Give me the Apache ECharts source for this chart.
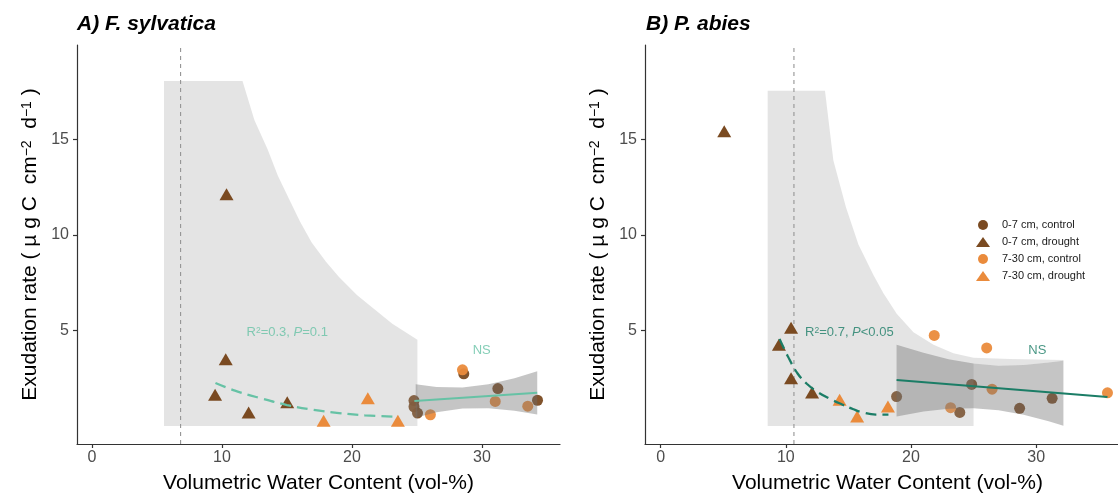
<!DOCTYPE html>
<html>
<head>
<meta charset="utf-8">
<script src="https://cdn.jsdelivr.net/npm/echarts@6/dist/echarts.min.js"></script>
<style>
  html, body { margin: 0; padding: 0; background: #fff; }
  #chart { width: 1118px; height: 495px; }
</style>
</head>
<body>
<div id="chart"></div>
<script>
// ---- data ----
// axis limits (data units)
var xLimA = [-1.15, 36.0];
var xLimB = [-1.25, 37.5];
var yLim = [-0.94, 19.94];
var xTicks = [0, 10, 20, 30];
var yTicks = [5, 10, 15];

// A) F. sylvatica points
var a_ctrl07 = [[24.77, 1.33], [24.77, 1.01], [25.04, 0.68], [28.6, 2.73], [31.22, 1.96], [34.27, 1.35]];
var a_drou07 = [[10.35, 12.13], [10.29, 3.5], [9.47, 1.64], [12.05, 0.71], [15.02, 1.24]];
var a_ctrl730 = [[28.5, 2.94], [26.03, 0.59], [31.02, 1.29], [33.52, 1.04]];
var a_drou730 = [[17.82, 0.28], [21.22, 1.45], [23.53, 0.28]];

// A) fitted curves
var a_dashX = [9.5, 11, 13, 15, 17, 19, 21, 23.5];
var a_dashY = [2.25, 1.85, 1.45, 1.1, 0.85, 0.68, 0.56, 0.48];
var a_lineX = [24.8, 34.25];
var a_lineY = [1.31, 1.74];

// A) confidence bands
var a_lightX = [5.54, 11.58, 12.5, 13.5, 14.3, 15.15, 16.0, 16.9, 18.0, 19.0, 20.4, 21.75, 23.1, 25.03];
var a_lightHi = [18.05, 18.05, 16.0, 14.5, 13.1, 11.9, 10.7, 9.6, 8.6, 7.8, 6.85, 6.1, 5.35, 4.51];
var a_lightLoX = [5.54, 25.03];
var a_lightLo = [0, 0];
var a_ciX = [24.9, 26.5, 28.5, 30.5, 32.5, 34.25];
var a_ciHi = [2.19, 2.04, 2.02, 2.19, 2.5, 2.87];
var a_ciLo = [0.43, 0.72, 0.92, 0.93, 0.8, 0.61];

var a_vline = 6.82;

// B) P. abies points
var b_ctrl07 = [[18.85, 1.54], [23.9, 0.71], [24.85, 2.18], [28.68, 0.93], [31.28, 1.45]];
var b_drou07 = [[5.08, 15.43], [10.42, 5.14], [9.45, 4.25], [10.42, 2.5], [12.1, 1.76]];
var b_ctrl730 = [[21.86, 4.74], [26.05, 4.09], [23.17, 0.96], [26.48, 1.93], [35.7, 1.74]];
var b_drou730 = [[14.3, 1.38], [15.7, 0.5], [18.16, 1.02]];

// B) fitted curves
var b_dashX = [9.5, 10.16, 10.94, 11.7, 12.5, 13.5, 14.5, 15.4, 16.2, 17.2, 18.2];
var b_dashY = [4.56, 3.65, 2.75, 2.2, 1.8, 1.43, 1.13, 0.88, 0.7, 0.6, 0.6];
var b_lineX = [18.85, 35.7];
var b_lineY = [2.41, 1.52];

// B) confidence bands
var b_lightX = [8.55, 13.13, 13.8, 14.8, 15.8, 17.0, 17.8, 18.86, 20.2, 21.8, 23.39, 25.0, 27.9, 32.18];
var b_lightHi = [17.55, 17.55, 13.9, 11.46, 9.5, 7.9, 6.95, 5.87, 4.91, 4.26, 3.81, 3.57, 3.51, 3.46];
var b_lightLoX = [8.55, 25.0, 25.0, 27.0, 29.0, 31.0, 32.18];
var b_lightLo = [0, 0, 3.27, 3.16, 3.19, 3.33, 3.42];
var b_ciX = [18.85, 21, 23, 25, 27, 29, 31, 32.18];
var b_ciHi = [4.26, 3.84, 3.5, 3.27, 3.16, 3.19, 3.33, 3.42];
var b_ciLo = [0.5, 0.76, 0.9, 0.93, 0.82, 0.59, 0.25, 0.02];

var b_vline = 10.65;

// annotations [x, y]
var a_r2Pos = [15.02, 4.91];
var a_nsPos = [29.98, 3.95];
var b_r2Pos = [15.08, 4.91];
var b_nsPos = [30.1, 3.95];

// ---- chart ----
var chart = echarts.init(document.getElementById('chart'));
var FONT = '"Liberation Sans", Arial, Helvetica, sans-serif';
var BROWN = '#7a4a21';
var ORANGE = '#ea8b3c';
var TEAL_A = '#66c2a5';
var TEAL_B = '#1b7d66';
var LIGHT = 'rgba(150,150,150,0.26)';
var DARK = 'rgba(110,110,110,0.40)';

function pairs(xs, ys) {
  return xs.map(function (x, i) { return [x, ys[i]]; });
}

// circles sit under the bands, triangles above them
function pointSeries(name, g, data, symbol, color) {
  var tri = symbol === 'triangle';
  return {
    type: 'scatter', name: name, xAxisIndex: g, yAxisIndex: g,
    data: data, symbol: symbol,
    symbolSize: tri ? [14, 12] : 11,
    itemStyle: { color: color, opacity: tri ? 1 : 0.95 },
    silent: true, z: tri ? 4 : 2
  };
}

function bandSeries(g, hiX, hiY, loX, loY, fill) {
  var pts = pairs(hiX, hiY).concat(pairs(loX, loY).reverse());
  return {
    type: 'custom', xAxisIndex: g, yAxisIndex: g, silent: true, z: 3,
    data: pts,
    renderItem: function (params, api) {
      if (params.dataIndex !== 0) return;
      return {
        type: 'polygon',
        shape: { points: pts.map(function (p) { return api.coord(p); }) },
        style: { fill: fill }
      };
    }
  };
}

function curveSeries(g, xs, ys, color, dashed) {
  return {
    type: 'line', xAxisIndex: g, yAxisIndex: g, data: pairs(xs, ys),
    symbol: 'none', smooth: dashed ? 0.4 : false, silent: true, z: 5,
    lineStyle: { color: color, width: dashed ? 2.3 : 2, type: dashed ? [11, 6] : 'solid', cap: 'butt' }
  };
}

function vlineSeries(g, x) {
  return {
    type: 'line', xAxisIndex: g, yAxisIndex: g, data: [[x, yLim[0]], [x, yLim[1]]],
    symbol: 'none', silent: true, z: 1,
    lineStyle: { color: '#8a8a8a', width: 1, type: [4, 4] }
  };
}

function textSeries(g, pos, text, color) {
  return {
    type: 'scatter', xAxisIndex: g, yAxisIndex: g, data: [pos], symbolSize: 0,
    silent: true, z: 6,
    label: {
      show: true, position: 'inside', formatter: text, color: color,
      fontSize: 13, fontFamily: FONT,
      rich: {
        sup: { fontSize: 8.5, verticalAlign: 'top', color: color, fontFamily: FONT },
        it: { fontSize: 13, fontStyle: 'italic', color: color, fontFamily: FONT }
      }
    }
  };
}

function xAxis(g, lim) {
  return {
    type: 'value', gridIndex: g, min: lim[0], max: lim[1],
    name: 'Volumetric Water Content (vol-%)', nameLocation: 'middle', nameGap: 29,
    nameTextStyle: { fontSize: 21, color: '#000', fontFamily: FONT },
    axisLine: { show: true, onZero: false, lineStyle: { color: '#333', width: 1.2 } },
    axisTick: { show: true, length: 4, customValues: xTicks, lineStyle: { color: '#333', width: 1.2 } },
    axisLabel: { customValues: xTicks, margin: 6, fontSize: 16, color: '#4d4d4d', fontFamily: FONT },
    splitLine: { show: false }
  };
}

function yAxis(g) {
  return {
    type: 'value', gridIndex: g, min: yLim[0], max: yLim[1],
    name: 'Exudation rate ( µ g C  cm{sup|−2}  d{sup|−1} )',
    nameLocation: 'middle', nameGap: 36, nameRotate: 90,
    nameTextStyle: {
      fontSize: 21, color: '#000', fontFamily: FONT,
      rich: { sup: { fontSize: 14, verticalAlign: 'top', color: '#000', fontFamily: FONT } }
    },
    axisLine: { show: true, onZero: false, lineStyle: { color: '#333', width: 1.2 } },
    axisTick: { show: true, length: 4, customValues: yTicks, lineStyle: { color: '#333', width: 1.2 } },
    axisLabel: { customValues: yTicks, margin: 8, fontSize: 16, color: '#4d4d4d', fontFamily: FONT },
    splitLine: { show: false }
  };
}

var titleStyle = { fontSize: 21, fontWeight: 'bold', fontStyle: 'italic', color: '#000', fontFamily: FONT };

var NAMES = ['0-7 cm, control', '0-7 cm, drought', '7-30 cm, control', '7-30 cm, drought'];

chart.setOption({
  animation: false,
  backgroundColor: '#fff',
  title: [
    { text: 'A) F. sylvatica', left: 72, top: 9, textStyle: titleStyle },
    { text: 'B) P. abies', left: 641, top: 9, textStyle: titleStyle }
  ],
  legend: {
    orient: 'vertical', left: 971, top: 214,
    itemWidth: 14, itemHeight: 10, itemGap: 5,
    selectedMode: false,
    itemStyle: { opacity: 1 },
    textStyle: { fontSize: 11, lineHeight: 12, color: '#1a1a1a', fontFamily: FONT, padding: [0, 0, 0, 7] },
    data: [
      { name: NAMES[0], icon: 'circle' },
      { name: NAMES[1], icon: 'triangle' },
      { name: NAMES[2], icon: 'circle' },
      { name: NAMES[3], icon: 'triangle' }
    ]
  },
  grid: [
    { left: 77, right: 558, top: 45, bottom: 51, outerBoundsMode: 'none' },
    { left: 645, right: -12, top: 45, bottom: 51, outerBoundsMode: 'none' }
  ],
  xAxis: [xAxis(0, xLimA), xAxis(1, xLimB)],
  yAxis: [yAxis(0), yAxis(1)],
  series: [
    vlineSeries(0, a_vline),
    pointSeries(NAMES[0], 0, a_ctrl07, 'circle', BROWN),
    pointSeries(NAMES[1], 0, a_drou07, 'triangle', BROWN),
    pointSeries(NAMES[2], 0, a_ctrl730, 'circle', ORANGE),
    pointSeries(NAMES[3], 0, a_drou730, 'triangle', ORANGE),
    bandSeries(0, a_lightX, a_lightHi, a_lightLoX, a_lightLo, LIGHT),
    bandSeries(0, a_ciX, a_ciHi, a_ciX, a_ciLo, DARK),
    curveSeries(0, a_dashX, a_dashY, TEAL_A, true),
    curveSeries(0, a_lineX, a_lineY, TEAL_A, false),
    textSeries(0, a_r2Pos, 'R{sup|2}=0.3, {it|P}=0.1', TEAL_A),
    textSeries(0, a_nsPos, 'NS', TEAL_A),

    vlineSeries(1, b_vline),
    pointSeries(NAMES[0], 1, b_ctrl07, 'circle', BROWN),
    pointSeries(NAMES[1], 1, b_drou07, 'triangle', BROWN),
    pointSeries(NAMES[2], 1, b_ctrl730, 'circle', ORANGE),
    pointSeries(NAMES[3], 1, b_drou730, 'triangle', ORANGE),
    bandSeries(1, b_lightX, b_lightHi, b_lightLoX, b_lightLo, LIGHT),
    bandSeries(1, b_ciX, b_ciHi, b_ciX, b_ciLo, DARK),
    curveSeries(1, b_dashX, b_dashY, TEAL_B, true),
    curveSeries(1, b_lineX, b_lineY, TEAL_B, false),
    textSeries(1, b_r2Pos, 'R{sup|2}=0.7, {it|P}<0.05', TEAL_B),
    textSeries(1, b_nsPos, 'NS', TEAL_B)
  ]
});
</script>
</body>
</html>
